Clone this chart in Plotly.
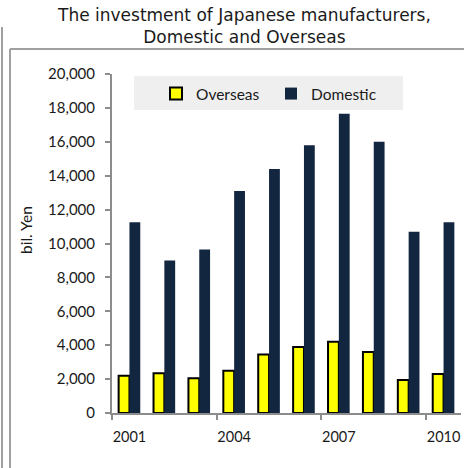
import plotly.graph_objects as go

# Capital investment by Japanese manufacturers (billion yen)
years = ["2001", "2002", "2003", "2004", "2005", "2006", "2007", "2008", "2009", "2010"]
overseas = [2200, 2350, 2050, 2500, 3450, 3900, 4200, 3600, 1950, 2300]
domestic = [11250, 9000, 9650, 13100, 14400, 15800, 17650, 16000, 10700, 11250]
y_ticks = [0, 2000, 4000, 6000, 8000, 10000, 12000, 14000, 16000, 18000, 20000]

AXIS_GRAY = "#8c8c8c"
FRAME_GRAY = "#a0a0a0"
TEXT = "#1a1a1a"
X_TICK_FONT = dict(family="Lato", size=14.5, color=TEXT)
Y_TICK_FONT = dict(family="Lato", size=15, color=TEXT)

# plot-area geometry in pixels
W, H = 464, 468
L, R, T, B = 112, 3, 74, 55
PW, PH = W - L - R, H - T - B


def px_x(x):
    return (x - L) / PW


def px_y(y):
    return (H - B - y) / PH


fig = go.Figure()
fig.add_trace(go.Bar(
    x=years, y=overseas, name="Overseas",
    marker=dict(color="#ffff00", line=dict(color="#000000", width=2)),
))
fig.add_trace(go.Bar(
    x=years, y=domestic, name="Domestic",
    marker=dict(color="#13263f", line=dict(width=0)),
))

fig.update_layout(
    width=W, height=H,
    margin=dict(l=L, r=R, t=T, b=B, pad=0, autoexpand=False),
    paper_bgcolor="white", plot_bgcolor="white",
    barmode="group", bargap=0.38, bargroupgap=0,
    showlegend=True,
    legend=dict(
        orientation="h", x=px_x(156), xanchor="left", y=px_y(77), yanchor="top",
        bgcolor="rgba(0,0,0,0)", font=dict(family="Lato", size=15.5, color=TEXT),
        entrywidth=70, entrywidthmode="pixels", itemwidth=30,
    ),
    font=X_TICK_FONT,
)

fig.update_xaxes(
    type="category", tickmode="linear", tick0=0, dtick=3, tickangle=0,
    tickson="boundaries", ticks="outside", ticklen=5, tickwidth=2,
    tickcolor=AXIS_GRAY, showline=True, linecolor=AXIS_GRAY, linewidth=2,
    showgrid=False, tickfont=X_TICK_FONT, range=[-0.5, 9.5], automargin=False,
    ticklabelstandoff=10,
)
fig.update_yaxes(
    range=[0, 20000], tickvals=y_ticks, tickformat=",",
    ticks="outside", ticklen=5, tickwidth=2, tickcolor=AXIS_GRAY,
    showline=True, linecolor=AXIS_GRAY, linewidth=2,
    showgrid=False, zeroline=False, tickfont=Y_TICK_FONT, automargin=False,
    ticklabelstandoff=7,
)

# Chart title
fig.add_annotation(
    text="The investment of Japanese manufacturers,<br>Domestic and Overseas",
    showarrow=False, xref="paper", yref="paper",
    x=px_x(244), y=px_y(26), xanchor="center", yanchor="middle",
    font=dict(family="DejaVu Sans", size=17, color=TEXT),
)

# Axis caption
fig.add_annotation(
    text="bil. Yen", textangle=-90, showarrow=False,
    xref="paper", yref="paper", x=px_x(26), y=px_y(230),
    xanchor="center", yanchor="middle",
    font=dict(family="Lato", size=15.5, color=TEXT),
)

# Legend panel background
fig.add_shape(type="rect", xref="paper", yref="paper", layer="below",
              x0=px_x(134), x1=px_x(403), y0=px_y(76), y1=px_y(110),
              fillcolor="#efefef", line=dict(width=0))

# Frame lines around the chart panel
fig.add_shape(type="line", xref="paper", yref="paper",
              x0=px_x(10), x1=px_x(470), y0=px_y(49), y1=px_y(49),
              line=dict(color=FRAME_GRAY, width=2))
fig.add_shape(type="line", xref="paper", yref="paper",
              x0=px_x(10), x1=px_x(10), y0=px_y(49), y1=px_y(470),
              line=dict(color=FRAME_GRAY, width=2))
fig.add_shape(type="line", xref="paper", yref="paper",
              x0=px_x(2), x1=px_x(2), y0=px_y(27), y1=px_y(470),
              line=dict(color=FRAME_GRAY, width=2))

fig.write_html("out.html")
